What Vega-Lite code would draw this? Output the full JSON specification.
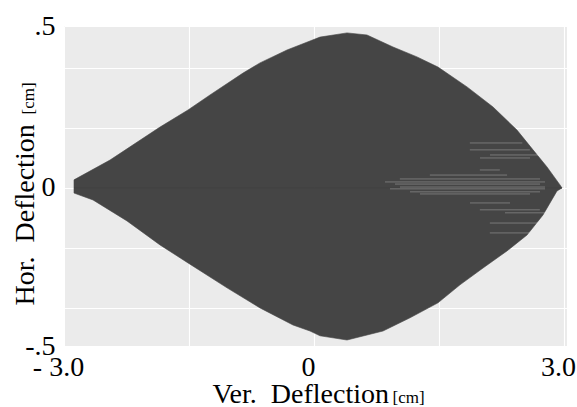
{
  "$schema": "https://vega.github.io/schema/vega-lite/v6.json",
  "autosize": "none",
  "width": 503,
  "height": 320,
  "padding": {"left": 64, "top": 26, "right": 10, "bottom": 61},
  "background": "white",
  "datasets": {
    "upper": [
      {"x": -2.88, "y": 0.027}, {"x": -2.448, "y": 0.093}, {"x": -1.848, "y": 0.203},
      {"x": -1.512, "y": 0.26}, {"x": -1.248, "y": 0.31}, {"x": -0.852, "y": 0.383},
      {"x": -0.648, "y": 0.417}, {"x": -0.324, "y": 0.46}, {"x": -0.048, "y": 0.49},
      {"x": 0.072, "y": 0.503}, {"x": 0.396, "y": 0.517}, {"x": 0.636, "y": 0.51},
      {"x": 0.948, "y": 0.47}, {"x": 1.236, "y": 0.437}, {"x": 1.488, "y": 0.403},
      {"x": 1.836, "y": 0.337}, {"x": 2.148, "y": 0.27}, {"x": 2.436, "y": 0.193},
      {"x": 2.628, "y": 0.127}, {"x": 2.796, "y": 0.07}, {"x": 2.952, "y": 0.01},
      {"x": 2.976, "y": 0.0}
    ],
    "lower": [
      {"x": -2.88, "y": -0.017}, {"x": -2.652, "y": -0.04}, {"x": -2.244, "y": -0.11},
      {"x": -1.848, "y": -0.19}, {"x": -1.512, "y": -0.25}, {"x": -1.044, "y": -0.333},
      {"x": -0.648, "y": -0.4}, {"x": -0.252, "y": -0.457}, {"x": -0.048, "y": -0.477},
      {"x": 0.072, "y": -0.493}, {"x": 0.396, "y": -0.507}, {"x": 0.828, "y": -0.477},
      {"x": 1.152, "y": -0.433}, {"x": 1.488, "y": -0.383}, {"x": 1.752, "y": -0.323},
      {"x": 2.028, "y": -0.267}, {"x": 2.316, "y": -0.21}, {"x": 2.556, "y": -0.157},
      {"x": 2.748, "y": -0.09}, {"x": 2.916, "y": -0.01}, {"x": 2.976, "y": 0.0}
    ],
    "streaks": [
      {"x1": 1.39, "x2": 2.317, "y": 0.043},
      {"x1": 1.03, "x2": 2.712, "y": 0.03},
      {"x1": 0.852, "x2": 2.772, "y": 0.02},
      {"x1": 0.972, "x2": 2.712, "y": 0.013},
      {"x1": 1.032, "x2": 2.772, "y": 0.003},
      {"x1": 0.912, "x2": 2.772, "y": -0.003},
      {"x1": 1.152, "x2": 2.712, "y": -0.013},
      {"x1": 1.272, "x2": 2.592, "y": -0.02},
      {"x1": 1.872, "x2": 2.352, "y": -0.05},
      {"x1": 1.992, "x2": 2.592, "y": 0.1},
      {"x1": 2.112, "x2": 2.712, "y": 0.11},
      {"x1": 2.292, "x2": 2.772, "y": -0.083},
      {"x1": 1.87, "x2": 2.5, "y": 0.15},
      {"x1": 1.87, "x2": 2.59, "y": 0.127},
      {"x1": 1.99, "x2": 2.23, "y": 0.06},
      {"x1": 1.99, "x2": 2.71, "y": -0.073},
      {"x1": 2.11, "x2": 2.71, "y": -0.117},
      {"x1": 2.11, "x2": 2.59, "y": -0.15}
    ]
  },
  "resolve": {"axis": {"x": "independent", "y": "independent"}},
  "layer": [
    {
      "data": {"name": "upper"},
      "mark": {"type": "area", "color": "#404040", "stroke": "#404040", "strokeWidth": 0.6, "opacity": 0.97},
      "encoding": {
        "x": {
          "field": "x", "type": "quantitative",
          "scale": {"domain": [-3, 3.036], "nice": false, "zero": false},
          "axis": {
            "orient": "bottom",
            "values": [-3, -1.5, 0, 1.5, 3],
            "labelExpr": "datum.value == -3 ? '- 3.0' : datum.value == 0 ? '0' : datum.value == 3 ? '3.0' : ''",
            "labelFlush": false,
            "labelOverlap": false,
            "labelOffset": -6,
            "labelPadding": 7,
            "title": "Ver.\u00a0\u00a0Deflection",
            "titleAnchor": "start",
            "titleAlign": "left",
            "titleBaseline": "alphabetic",
            "titleX": 148,
            "titleY": 56
          }
        },
        "y": {
          "field": "y", "type": "quantitative",
          "scale": {"domain": [-0.527, 0.54], "nice": false, "zero": false},
          "axis": {
            "orient": "left",
            "values": [-0.527, -0.4, -0.2, 0, 0.2, 0.4, 0.54],
            "labelExpr": "datum.value > 0.5 ? '.5' : datum.value < -0.5 ? '-.5' : datum.value == 0 ? '0' : ''",
            "labelOverlap": false,
            "labelFlush": false,
            "labelPadding": 9,
            "labelBaseline": "middle",
            "title": "Hor.\u00a0\u00a0Deflection",
            "titleAngle": 270,
            "titleAnchor": "start",
            "titleAlign": "left",
            "titleBaseline": "alphabetic",
            "titleX": -31,
            "titleY": 279
          }
        },
        "y2": {"datum": 0}
      }
    },
    {
      "data": {"name": "lower"},
      "mark": {"type": "area", "color": "#404040", "stroke": "#404040", "strokeWidth": 0.6, "opacity": 0.97},
      "encoding": {
        "x": {
          "field": "x", "type": "quantitative",
          "axis": {
            "orient": "bottom", "labels": false, "grid": false, "ticks": false, "domain": false,
            "title": "[cm]", "titleFontSize": 17,
            "titleAnchor": "start", "titleAlign": "left", "titleBaseline": "alphabetic",
            "titleX": 328, "titleY": 56
          }
        },
        "y": {
          "field": "y", "type": "quantitative",
          "axis": {
            "orient": "left", "labels": false, "grid": false, "ticks": false, "domain": false,
            "title": "[cm]", "titleFontSize": 17, "titleAngle": 270,
            "titleAnchor": "start", "titleAlign": "left", "titleBaseline": "alphabetic",
            "titleX": -31, "titleY": 88
          }
        },
        "y2": {"datum": 0}
      }
    },
    {
      "data": {"name": "streaks"},
      "mark": {"type": "rule", "color": "white", "opacity": 0.28, "strokeWidth": 1},
      "encoding": {
        "x": {"field": "x1", "type": "quantitative", "axis": null},
        "x2": {"field": "x2"},
        "y": {"field": "y", "type": "quantitative", "axis": null}
      }
    }
  ],
  "config": {
    "view": {"fill": "#EBEBEB", "stroke": null},
    "axis": {
      "domain": false,
      "ticks": false,
      "gridColor": "white",
      "gridWidth": 1.1,
      "gridOpacity": 1,
      "labelFont": "Liberation Serif",
      "labelFontSize": 28,
      "labelColor": "black",
      "titleFont": "Liberation Serif",
      "titleFontSize": 28,
      "titleFontWeight": "normal",
      "titleColor": "black"
    }
  }
}
